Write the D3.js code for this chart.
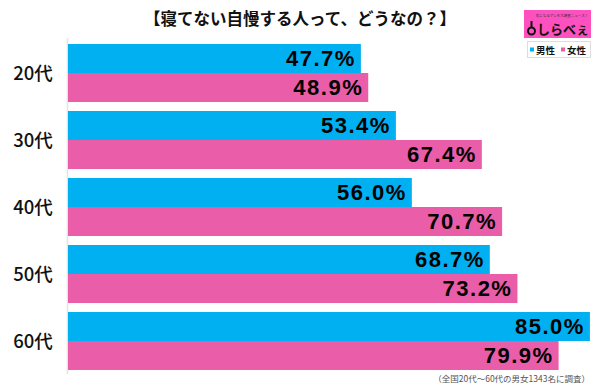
<!DOCTYPE html>
<html>
<head>
<meta charset="utf-8">
<script src="https://cdn.jsdelivr.net/npm/d3@7"></script>
<style>
  body { margin: 0; background: #fff; }
  svg { display: block; }
</style>
</head>
<body>
<script>
var categories = ["20代", "30代", "40代", "50代", "60代"];
var seriesNames = ["男性", "女性"];
var male = [47.7, 53.4, 56.0, 68.7, 85.0];
var female = [48.9, 67.4, 70.7, 73.2, 79.9];
var colors = ["#00b0f0", "#e95da9"];

var width = 600, height = 388;
var font = "'Noto Sans CJK JP', 'Noto Sans', sans-serif";

var svg = d3.select("body").append("svg")
  .attr("width", width)
  .attr("height", height);

// title
svg.append("text")
  .attr("x", 300)
  .attr("y", 25)
  .attr("text-anchor", "middle")
  .style("font-family", font)
  .style("font-weight", "bold")
  .style("font-size", "16.5px")
  .attr("fill", "#111")
  .text("【寝てない自慢する人って、どうなの？】");

var x = d3.scaleLinear().domain([0, 100]).range([68, 682]);

var y = d3.scaleBand()
  .domain(categories)
  .range([39.5, 374.5])
  .paddingInner(9 / 67)
  .paddingOuter(4.5 / 67);

var sub = d3.scaleBand()
  .domain([0, 1])
  .range([0, y.bandwidth()]);

var rows = categories.map((c, i) => ({ cat: c, vals: [male[i], female[i]] }));

// axis line
svg.append("line")
  .attr("x1", 67.5).attr("x2", 67.5)
  .attr("y1", 38).attr("y2", 374)
  .attr("stroke", "#e4e4e4")
  .attr("stroke-width", 1.5);

var g = svg.selectAll("g.row")
  .data(rows)
  .join("g")
  .attr("class", "row")
  .attr("transform", d => "translate(0," + y(d.cat) + ")");

g.selectAll("rect")
  .data(d => d.vals)
  .join("rect")
  .attr("x", x(0))
  .attr("y", (v, i) => sub(i))
  .attr("width", v => x(v) - x(0))
  .attr("height", sub.bandwidth())
  .attr("fill", (v, i) => colors[i]);

g.selectAll("text.val")
  .data(d => d.vals)
  .join("text")
  .attr("class", "val")
  .attr("x", v => x(v) - 5)
  .attr("y", (v, i) => sub(i) + sub.bandwidth() / 2)
  .attr("dy", "0.36em")
  .attr("text-anchor", "end")
  .style("font-family", "'Liberation Sans', Arial, sans-serif")
  .style("font-weight", "bold")
  .style("font-size", "22px")
  .style("letter-spacing", "1.5px")
  .attr("fill", "#000")
  .text(v => v.toFixed(1) + "%");

// category labels
svg.selectAll("text.cat")
  .data(categories)
  .join("text")
  .attr("class", "cat")
  .attr("x", 33)
  .attr("y", d => y(d) + y.bandwidth() / 2)
  .attr("dy", "0.36em")
  .attr("text-anchor", "middle")
  .style("font-family", font)
  .style("font-weight", "500")
  .style("font-size", "18.5px")
  .attr("fill", "#111")
  .text(d => d);

// logo
var logo = svg.append("g");
logo.append("rect")
  .attr("x", 524).attr("y", 10)
  .attr("width", 67).attr("height", 28)
  .attr("fill", "#ff50c0");
logo.append("text")
  .attr("x", 562).attr("y", 16.5)
  .attr("text-anchor", "middle")
  .style("font-family", font)
  .style("font-size", "3.5px")
  .attr("fill", "#333")
  .text("気になるアレを大調査ニュース！");
logo.append("circle")
  .attr("cx", 531.5).attr("cy", 31)
  .attr("r", 3.5)
  .attr("fill", "none")
  .attr("stroke", "#111")
  .attr("stroke-width", 2);
logo.append("line")
  .attr("x1", 531.5).attr("x2", 531.5)
  .attr("y1", 21).attr("y2", 27.5)
  .attr("stroke", "#111")
  .attr("stroke-width", 2);
logo.append("text")
  .attr("x", 537).attr("y", 34)
  .style("font-family", font)
  .style("font-weight", "bold")
  .style("font-size", "13px")
  .attr("fill", "#111")
  .text("しらべぇ");

// legend
svg.append("rect")
  .attr("x", 527.5).attr("y", 41.5)
  .attr("width", 63).attr("height", 16)
  .attr("fill", "#fff")
  .attr("stroke", "#ddd");

var leg = svg.selectAll("g.leg")
  .data(seriesNames)
  .join("g")
  .attr("class", "leg")
  .attr("transform", (d, i) => "translate(" + (530 + i * 31) + ",0)");
leg.append("rect")
  .attr("x", 0).attr("y", 47.5)
  .attr("width", 4).attr("height", 4)
  .attr("fill", (d, i) => colors[i]);
leg.append("text")
  .attr("x", 6).attr("y", 53.5)
  .style("font-family", font)
  .style("font-weight", "bold")
  .style("font-size", "9.5px")
  .attr("fill", "#111")
  .text(d => d);

// footnote
svg.append("text")
  .attr("x", 590).attr("y", 382)
  .attr("text-anchor", "end")
  .style("font-family", font)
  .style("font-size", "8.5px")
  .attr("fill", "#555")
  .text("（全国20代～60代の男女1343名に調査）");
</script>
</body>
</html>
